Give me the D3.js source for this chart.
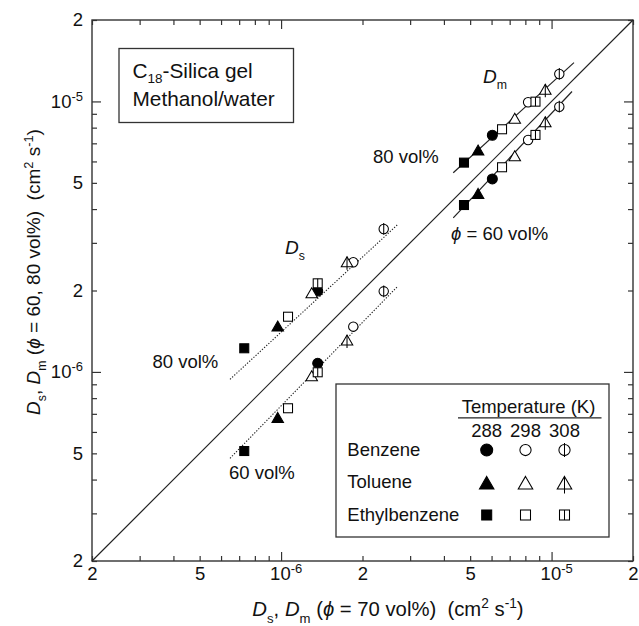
<!DOCTYPE html>
<html><head><meta charset="utf-8">
<script src="https://cdn.jsdelivr.net/npm/d3@7"></script>
<style>
body{margin:0;background:#fff;}
svg text{font-family:"Liberation Sans",Arial,Helvetica,sans-serif;fill:#111;white-space:pre;}
</style></head><body>
<svg id="c" width="639" height="626"></svg>
<script>
// ---- data (diffusivities in units of 1e-6 cm2 s-1) ----
const species = ["Benzene", "Toluene", "Ethylbenzene"];
const temps = ["288", "298", "308"];
// rows: species, columns: temperature
const dmX70 = [[6.04, 8.19, 10.68], [5.35, 7.31, 9.48], [4.745, 6.56, 8.72]];
const dmY80 = [[7.50, 9.93, 12.63], [6.61, 8.66, 11.09], [5.94, 7.89, 9.98]];
const dmY60 = [[5.17, 7.20, 9.56], [4.57, 6.30, 8.41], [4.14, 5.71, 7.52]];
const dsX70 = [[1.366, 1.849, 2.396], [0.972, 1.298, 1.753], [0.731, 1.061, 1.366]];
const dsY80 = [[1.992, 2.543, 3.376], [1.478, 1.963, 2.556], [1.223, 1.600, 2.126]];
const dsY60 = [[1.076, 1.470, 1.986], [0.679, 0.968, 1.312], [0.510, 0.734, 0.997]];
// fitted lines (endpoints, same units)
const dmLine80 = [[4.33, 5.45], [12.10, 13.91]];
const dmLine60 = [[4.33, 3.71], [11.90, 10.88]];
const dsLine80 = [[0.6475, 0.939], [2.713, 3.523]];
const dsLine60 = [[0.6475, 0.4795], [2.705, 2.078]];
const diagLine = [[0.2, 0.2], [20, 20]];
// tick labels
const tickVals = [0.2, 0.5, 1, 2, 5, 10, 20];
const tickText = [["2"], ["5"], ["10", "-6"], ["2"], ["5"], ["10", "-5"], ["2"]];
const majorVals = [1, 10];

const U = 1e-6;
const svg = d3.select("#c");
const L = 92, R = 633, T = 20, B = 561;
const x = d3.scaleLog().domain([0.2 * U, 20 * U]).range([L, R]);
const y = d3.scaleLog().domain([0.2 * U, 20 * U]).range([B, T]);
const FS = 18.5, INK = "#333";
const PHI = "\u03D5";

const minorVals = [];
for (const k of [-7, -6, -5]) for (let m = 2; m <= 9; m++) {
  const v = m * Math.pow(10, k);
  if (v >= 0.2 * U * 0.999 && v <= 20 * U * 1.001) minorVals.push(v);
}

function styleAxis(g) {
  g.select(".domain").remove();
  g.selectAll("line").attr("stroke", INK).attr("stroke-width", 1.2);
}
// ticks, inward on four sides
[[d3.axisBottom, `translate(0,${B})`], [d3.axisTop, `translate(0,${T})`]].forEach(([ax, tr]) => {
  svg.append("g").attr("transform", tr).call(ax(x).tickValues(minorVals).tickSize(-5).tickSizeOuter(0).tickFormat("")).call(styleAxis);
  svg.append("g").attr("transform", tr).call(ax(x).tickValues(majorVals.map(v => v * U)).tickSize(-9).tickSizeOuter(0).tickFormat("")).call(styleAxis);
});
[[d3.axisLeft, `translate(${L},0)`], [d3.axisRight, `translate(${R},0)`]].forEach(([ax, tr]) => {
  svg.append("g").attr("transform", tr).call(ax(y).tickValues(minorVals).tickSize(-5).tickSizeOuter(0).tickFormat("")).call(styleAxis);
  svg.append("g").attr("transform", tr).call(ax(y).tickValues(majorVals.map(v => v * U)).tickSize(-9).tickSizeOuter(0).tickFormat("")).call(styleAxis);
});

function fillLabel(text, i) {
  const parts = tickText[i];
  text.text(null);
  text.append("tspan").text(parts[0]);
  if (parts.length > 1) text.append("tspan").attr("font-size", 13).attr("dy", -7).text(parts[1]);
}
// bottom labels
const gxl = svg.append("g").attr("transform", `translate(0,${B})`)
  .call(d3.axisBottom(x).tickValues(tickVals.map(v => v * U)).tickSize(0).tickPadding(6).tickFormat(""));
gxl.select(".domain").remove();
gxl.selectAll("text").attr("font-size", FS).each(function (d, i) {
  const t = d3.select(this); fillLabel(t, i);
  if (tickText[i].length > 1) t.attr("x", 4.6);
});
// left labels
const gyl = svg.append("g").attr("transform", `translate(${L},0)`)
  .call(d3.axisLeft(y).tickValues(tickVals.map(v => v * U)).tickSize(0).tickPadding(9).tickFormat(""));
gyl.select(".domain").remove();
gyl.selectAll("text").attr("font-size", FS).each(function (d, i) { fillLabel(d3.select(this), i); });

// frame
svg.append("rect").attr("x", L).attr("y", T).attr("width", R - L).attr("height", B - T)
  .attr("fill", "none").attr("stroke", INK).attr("stroke-width", 1.4);

// rich text helper
function rich(g, px, py, segs, opt = {}) {
  const size = opt.size || FS;
  const k = size / FS;
  const subD = opt.subShift != null ? opt.subShift : 6 * k;
  const t = g.append("text").attr("x", px).attr("y", py).attr("font-size", size)
    .attr("text-anchor", opt.anchor || "start");
  if (opt.rotate) t.attr("transform", `rotate(${opt.rotate},${px},${py})`);
  let cur = 0;
  segs.forEach(s => {
    const target = s.sub ? subD : s.sup ? -7 * k : 0;
    const ts = t.append("tspan").text(s.t).attr("dy", target - cur);
    cur = target;
    if (s.sub || s.sup) ts.attr("font-size", (s.sub ? 12 : 12.5) * k);
    if (s.i) ts.attr("font-style", "italic");
  });
  return t;
}

// lines
const line = d3.line().x(d => x(d[0] * U)).y(d => y(d[1] * U));
svg.append("path").attr("d", line(diagLine)).attr("stroke", "#222").attr("stroke-width", 1.2).attr("fill", "none");
[dmLine80, dmLine60].forEach(l => svg.append("path").attr("d", line(l)).attr("stroke", "#222").attr("stroke-width", 1.2).attr("fill", "none"));
[dsLine80, dsLine60].forEach(l => svg.append("path").attr("d", line(l)).attr("stroke", "#222").attr("stroke-width", 1.1).attr("stroke-dasharray", "1.3,1.6").attr("fill", "none"));

// markers
function marker(g, sp, t, cx, cy, sz) {
  const fill = t === 0 ? "#000" : "#fff";
  const st = { stroke: "#000", "stroke-width": 1.05 };
  const apply = (sel) => { for (const k in st) sel.attr(k, st[k]); return sel; };
  if (sp === 0) {
    const r = t === 0 ? sz.cf : sz.co;
    apply(g.append("circle").attr("cx", cx).attr("cy", cy).attr("r", r).attr("fill", fill));
    if (t === 2) apply(g.append("line").attr("x1", cx).attr("x2", cx).attr("y1", cy - r * 1.25).attr("y2", cy + r * 1.25));
  } else if (sp === 1) {
    const w = sz.tri, h = w * 0.87;
    apply(g.append("path").attr("d", `M${cx},${cy - h / 2}L${cx + w / 2},${cy + h / 2}L${cx - w / 2},${cy + h / 2}Z`).attr("fill", fill));
    if (t === 2) apply(g.append("line").attr("x1", cx).attr("x2", cx).attr("y1", cy - h / 2).attr("y2", cy + h / 2 + sz.ext));
  } else {
    const s = sz.sq;
    apply(g.append("rect").attr("x", cx - s / 2).attr("y", cy - s / 2).attr("width", s).attr("height", s).attr("fill", fill));
    if (t === 2) apply(g.append("line").attr("x1", cx).attr("x2", cx).attr("y1", cy - s / 2).attr("y2", cy + s / 2));
  }
}
const dataSz = { cf: 5, co: 4.7, tri: 11.5, sq: 9, ext: 3 };
const gm = svg.append("g");
const sets = [[dsX70, dsY80], [dsX70, dsY60], [dmX70, dmY80], [dmX70, dmY60]];
sets.forEach(([X, Y]) => {
  for (let t = 0; t < 3; t++) for (let s = 2; s >= 0; s--) {
    marker(gm, s, t, x(X[s][t] * U), y(Y[s][t] * U), dataSz);
  }
});

// annotation text
rich(svg, 285, 254, [{ t: "D", i: true }, { t: "s", sub: true }], { size: 19 });
rich(svg, 483, 83, [{ t: "D", i: true }, { t: "m", sub: true }], { size: 19 });
rich(svg, 152.5, 368, [{ t: "80 vol%" }]);
rich(svg, 229, 479, [{ t: "60 vol%" }]);
rich(svg, 373, 162.5, [{ t: "80 vol%" }]);
rich(svg, 451, 240, [{ t: PHI, i: true }, { t: " = 60 vol%" }]);

// text box
svg.append("rect").attr("x", 119).attr("y", 48.5).attr("width", 174.5).attr("height", 74)
  .attr("fill", "#fff").attr("stroke", INK).attr("stroke-width", 1.3);
rich(svg, 132.5, 78, [{ t: "C" }, { t: "18", sub: true }, { t: "-Silica gel" }], { size: 20.8, subShift: 4.5 });
rich(svg, 132.5, 105.5, [{ t: "Methanol/water" }], { size: 20.8 });

// legend
const lg = svg.append("g");
lg.append("rect").attr("x", 336).attr("y", 384).attr("width", 273).attr("height", 153)
  .attr("fill", "#fff").attr("stroke", INK).attr("stroke-width", 1.3);
rich(lg, 528.5, 412.5, [{ t: "Temperature (K)" }], { anchor: "middle" });
lg.append("line").attr("x1", 458).attr("x2", 601.5).attr("y1", 417.8).attr("y2", 417.8).attr("stroke", "#222").attr("stroke-width", 1.2);
const colX = [486.7, 525.5, 564.5];
const rowY = [450, 482.7, 515];
const rowBase = [456, 488.3, 520.7];
temps.forEach((tt, j) => rich(lg, colX[j], 437.3, [{ t: tt }], { anchor: "middle" }));
const legSz = { cf: 6, co: 5.6, tri: 14.5, sq: 10, ext: 4.5 };
species.forEach((sp, i) => {
  rich(lg, 347.3, rowBase[i], [{ t: sp }]);
  for (let t = 0; t < 3; t++) marker(lg, i, t, colX[t], rowY[i], legSz);
});

// axis titles
rich(svg, 388, 616, [{ t: "D", i: true }, { t: "s", sub: true }, { t: ", " }, { t: "D", i: true }, { t: "m", sub: true },
  { t: " (" }, { t: PHI, i: true }, { t: " = 70 vol%)  (cm" }, { t: "2", sup: true }, { t: " s" }, { t: "-1", sup: true }, { t: ")" }],
  { anchor: "middle", size: 20.3 });
rich(svg, 40, 272, [{ t: "D", i: true }, { t: "s", sub: true }, { t: ", " }, { t: "D", i: true }, { t: "m", sub: true },
  { t: " (" }, { t: PHI, i: true }, { t: " = 60, 80 vol%)  (cm" }, { t: "2", sup: true }, { t: " s" }, { t: "-1", sup: true }, { t: ")" }],
  { anchor: "middle", rotate: -90, size: 19 });
</script>
</body></html>
